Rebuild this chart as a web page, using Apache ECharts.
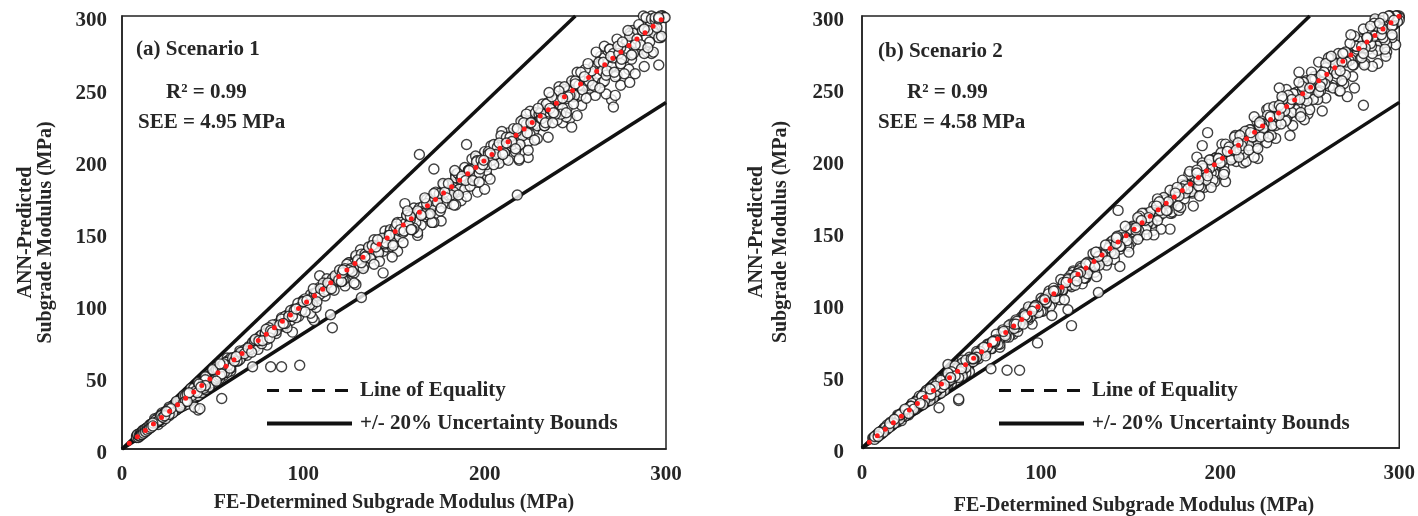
<!DOCTYPE html>
<html>
<head>
<meta charset="utf-8">
<title>ANN-Predicted vs FE-Determined Subgrade Modulus</title>
<script src="https://cdn.jsdelivr.net/npm/echarts@6/dist/echarts.min.js"></script>
<style>
  html, body { margin: 0; padding: 0; background: #fff; }
  #chart { width: 1418px; height: 516px; }
</style>
</head>
<body>
<div id="chart"></div>
<script>
// ---- Axis ticks ----
const xTicks = [0, 100, 200, 300];
const yTicks = [0, 50, 100, 150, 200, 250, 300];

// ---- Reference lines (MPa) ----
const equalityLine = [[0, 0], [300, 300]];
const upperBound = [[0, 0], [250, 300]];   // +20 %
const lowerBound = [[0, 0], [300, 240]];   // -20 %

// ---- Scenario 1: [FE-determined, ANN-predicted] ----
const s1Low = [
  [8,9],[8,8],[9,8],[9,10],[10,11],[10,9],[11,12],[11,10],[12,13],[12,11],[13,14],[13,12],[14,15],[14,13],
  [15,16],[15,14],[16,17],[16,15],[17,18],[17,16],[18,19],[18,17],[19,20],[19,18],[20,22],[20,19],[21,22],[21,20],
  [22,24],[22,21],[23,24],[23,22],[24,26],[24,22],[25,26],[25,24],[26,28],[26,24],[27,28],[27,25],[28,30],[28,26],
  [29,30],[29,27],[30,32],[30,28],[31,33],[31,29],[32,34],[32,30],[33,35],[33,31],[34,36],[34,32],[35,37],[35,33],
  [36,38],[36,33],[37,39],[37,35],[38,40],[38,36],[39,41],[39,37],[40,42],[40,37],[41,43],[41,39],[42,44],[42,40],
  [43,45],[43,40],[44,46],[44,42],[45,47],[45,42],[46,48],[46,44],[47,49],[47,44],[48,50],[48,45],[49,51],[49,47],
  [50,52],[50,47],[51,53],[51,48],[52,55],[52,49],[53,55],[53,50],[54,57],[54,51],[55,57],[55,52],[56,59],[56,53],
  [57,59],[57,54],[58,61],[58,55],[59,61],[59,56],[60,63],[60,56],
  [36,31],[38,34],[40,36],[42,37],[44,39],[46,41],[48,43],[24,21],[28,25],[32,29],[52,47],[56,51],[60,54],
  [20,17],[22,19],[26,23],[30,27],[34,30],[44,40],[50,46],[54,49],[58,53],[26,29],[30,33],[34,37],[38,42],
  [42,46],[46,50],[50,55],[54,59],[58,63],[18,21],[22,25]
];
const s1LowB = [
  [8.5,10],[9.5,9],[10.5,10],[11.5,13],[12.5,12],[13.5,14],[14.5,14],[15.5,17],[16.5,16],[17.5,17],[18.5,20],
  [19.5,19],[20.5,20],[21.5,23],[22.5,22],[23.5,23],[24.5,26],[25.5,25],[26.5,26],[27.5,29],[28.5,28],[29.5,28],
  [30.5,32],[31.5,31],[32.5,31],[33.5,35],[34.5,34],[35.5,34],[36.5,39],[37.5,37],[38.5,37],[39.5,42],[40.5,40],
  [41.5,39],[42.5,45],[43.5,43],[44.5,42],[45.5,48],[46.5,46],[47.5,45],[48.5,51],[49.5,49],[50.5,48],[51.5,54],
  [52.5,52],[53.5,51],[54.5,57],[55.5,55],[56.5,53],[57.5,60],[58.5,58],[59.5,56]
];
const s1BandA = [
  [61,63],[62,61],[63,64],[64,61],[65,68],[66,66],[67,65],[68,69],[69,65],[70,71],[71,70],[72,74],[73,70],[74,75],
  [75,69],[76,76],[77,79],[78,76],[79,80],[80,76],[81,84],[82,82],[83,81],[84,86],[85,80],[86,87],[87,86],[88,91],
  [89,85],[90,92],[91,84],[92,92],[93,96],[94,92],[95,96],[96,91],[97,101],[98,98],[99,96],[100,102],[101,95],
  [102,103],[103,102],[104,107],[105,101],[106,108],[107,98],[108,108],[109,112],[110,108],[111,112],[112,106],
  [113,118],[114,114],[115,112],[116,118],[117,110],[118,119],[119,118],[120,124],[121,116],[122,124],[123,113],
  [124,124],[125,129],[126,123],[127,128],[128,122],[129,134],[130,130],[131,127],[132,135],[133,125],[134,135],
  [135,134],[136,140],[137,132],[138,141],[139,128],[140,140],[141,145],[142,139],[143,144],[144,137],[145,151],
  [146,146],[147,143],[148,151],[149,140],[150,152],[151,149],[152,157],[153,147],[154,157],[155,143],[156,156],
  [157,162],[158,155],[159,161],[160,152],[161,167],[162,162],[163,158],[164,167],[165,155],[166,168],[167,165],
  [168,173],[169,162],[170,173],[171,157],[172,172],[173,178],[174,171],[175,177],[176,167],[177,184],[178,178],
  [179,174],[180,184],[181,170],[182,184],[183,181],[184,190],[185,178],[186,190],[187,172],[188,188],[189,195],
  [190,186],[191,193],[192,182],[193,201],[194,194],[195,189],[196,200],[197,185],[198,200],[199,197],[200,206],
  [201,193],[202,206],[203,187],[204,204],[205,211],[206,202],[207,209],[208,198],[209,217],[210,210],[211,205],
  [212,216],[213,200],[214,216],[215,213],[216,222],[217,208],[218,222],[219,201],[220,220],[221,228],[222,218],
  [223,225],[224,213],[225,234],[226,226],[227,220],[228,233],[229,215],[230,232],[231,229],[232,239],[233,224],
  [234,239],[235,216],[236,236],[237,244],[238,233],[239,241],[240,228],[241,251],[242,242],[243,236],[244,249],
  [245,230],[246,248],[247,245],[248,255],[249,239],[250,255],[251,231],[252,252],[253,261],[254,249],[255,258],
  [256,243],[257,267],[258,258],[259,251],[260,265],[261,245],[262,265],[263,260],[264,272],[265,254],[266,271],
  [267,246],[268,268],[269,277],[270,265],[271,274],[272,258],[273,284],[274,274],[275,267],[276,282],[277,260],
  [278,281],[279,276],[280,288],[281,270],[282,288],[283,260],[284,284],[285,294],[286,280],[287,290],[288,274],
  [289,299],[290,290],[291,282],[292,298],[293,275],[294,297],[295,292],[296,299],[297,285],[298,300]
];
const s1BandB = [
  [62,61],[64,65],[66,64],[68,68],[70,69],[72,73],[74,71],[76,78],[78,77],[80,72],[82,83],[84,82],[86,85],[88,90],
  [90,87],[92,92],[94,92],[96,97],[98,94],[100,103],[102,101],[104,94],[106,107],[108,106],[110,109],[112,114],
  [114,111],[116,116],[118,116],[120,121],[122,117],[124,128],[126,125],[128,115],[130,131],[132,129],[134,133],
  [136,139],[138,134],[140,140],[142,139],[144,145],[146,140],[148,152],[150,149],[152,137],[154,156],[156,153],
  [158,156],[160,163],[162,157],[164,164],[166,163],[168,170],[170,163],[172,177],[174,172],[176,158],[178,180],
  [180,176],[182,180],[184,188],[186,180],[188,188],[190,186],[192,194],[194,186],[196,202],[198,196],[200,180],
  [202,204],[204,200],[206,204],[208,212],[210,204],[212,212],[214,210],[216,218],[218,209],[220,227],[222,220],
  [224,202],[226,228],[228,223],[230,228],[232,237],[234,227],[236,236],[238,233],[240,242],[242,232],[244,251],
  [246,244],[248,223],[250,253],[252,247],[254,251],[256,261],[258,250],[260,260],[262,257],[264,267],[266,255],
  [268,276],[270,267],[272,245],[274,277],[276,270],[278,275],[280,286],[282,274],[284,284],[286,280],[288,291],
  [290,278],[292,300],[294,291],[296,266],[298,300]
];
const s1BandC = [
  [61,60],[63,64],[65,62],[67,68],[69,68],[71,69],[73,75],[75,75],[77,73],[79,80],[81,79],[83,86],[85,82],[87,86],
  [89,87],[91,92],[93,89],[95,97],[97,96],[99,96],[101,104],[103,103],[105,100],[107,108],[109,107],[111,115],
  [113,110],[115,114],[117,115],[119,120],[121,116],[123,125],[125,124],[127,123],[129,133],[131,131],[133,126],
  [135,136],[137,134],[139,145],[141,137],[143,142],[145,142],[147,148],[149,143],[151,154],[153,151],[155,150],
  [157,162],[159,159],[161,153],[163,165],[165,162],[167,174],[169,164],[171,169],[173,170],[175,177],[177,170],
  [179,183],[181,179],[183,178],[185,191],[187,187],[189,180],[191,193],[193,189],[195,203],[197,191],[199,197],
  [201,197],[203,205],[205,197],[207,211],[209,207],[211,205],[213,219],[215,215],[217,206],[219,221],[221,217],
  [223,232],[225,218],[227,225],[229,224],[231,233],[233,224],[235,240],[237,235],[239,232],[241,248],[243,243],
  [245,233],[247,249],[249,244],[251,261],[253,245],[255,252],[257,252],[259,262],[261,251],[263,268],[265,262],
  [267,259],[269,277],[271,271],[273,259],[275,278],[277,271],[279,290],[281,273],[283,280],[285,279],[287,290],
  [289,277],[291,297],[293,290],[295,286],[297,300],[299,299]
];
const s1BandD = [
  [61.5,62],[63.5,61],[65.5,67],[67.5,66],[69.5,70],[71.5,67],[73.5,76],[75.5,75],[77.5,75],[79.5,83],[81.5,77],
  [83.5,84],[85.5,84],[87.5,88],[89.5,86],[91.5,93],[93.5,92],[95.5,96],[97.5,92],[99.5,102],[101.5,100],[103.5,100],
  [105.5,111],[107.5,102],[109.5,111],[111.5,109],[113.5,115],[115.5,111],[117.5,120],[119.5,117],[121.5,122],
  [123.5,116],[125.5,129],[127.5,126],[129.5,126],[131.5,138],[133.5,127],[135.5,137],[137.5,135],[139.5,141],
  [141.5,136],[143.5,146],[145.5,143],[147.5,148],[149.5,141],[151.5,156],[153.5,152],[155.5,151],[157.5,165],
  [159.5,152],[161.5,163],[163.5,160],[165.5,167],[167.5,161],[169.5,173],[171.5,168],[173.5,174],[175.5,165],
  [177.5,183],[179.5,178],[181.5,176],[183.5,193],[185.5,176],[187.5,189],[189.5,186],[191.5,193],[193.5,186],
  [195.5,199],[197.5,194],[199.5,200],[201.5,189],[203.5,210],[205.5,203],[207.5,201],[209.5,220],[211.5,201],
  [213.5,216],[215.5,211],[217.5,220],[219.5,211],[221.5,226],[223.5,219],[225.5,226],[227.5,214],[229.5,236],
  [231.5,229],[233.5,226],[235.5,247],[237.5,226],[239.5,242],[241.5,237],[243.5,246],[245.5,236],[247.5,252],
  [249.5,245],[251.5,252],[253.5,238],[255.5,263],[257.5,255],[259.5,252],[261.5,275],[263.5,250],[265.5,268],
  [267.5,262],[269.5,272],[271.5,261],[273.5,279],[275.5,270],[277.5,278],[279.5,263],[281.5,290],[283.5,281],
  [285.5,277],[287.5,300],[289.5,275],[291.5,294],[293.5,288],[295.5,298],[297.5,286],[299.5,299]
];
const s1Outliers = [
  [42,27],[40,29],[43,28],[55,35],[72,57],[82,57],[88,57],[98,58],[94,81],[106,89],[109,120],[105,91],[115,93],
  [116,84],[132,105],[144,122],[129,114],[142,130],[149,133],[163,148],[164,204],[172,194],[156,170],[190,211],
  [218,176],[219,200],[224,207],[243,226],[247,229],[270,242],[271,237],[275,252],[280,254],[288,265],[292,274],
  [296,285],[266,279],[196,178],[190,175],[184,169],[172,157],[163,150],[183,169],[171,157],[294,299],[296,298]
];

// ---- Scenario 2: [FE-determined, ANN-predicted] ----
const s2Low = [
  [6,7],[7,8],[7,6],[8,9],[8,7],[9,10],[9,8],[10,11],[10,9],[11,12],[11,10],[12,13],[12,11],[13,14],[13,12],
  [14,16],[14,13],[15,16],[15,14],[16,18],[16,15],[17,18],[17,16],[18,20],[18,17],[19,20],[19,18],[20,22],[20,18],
  [21,23],[21,20],[22,24],[22,20],[23,25],[23,22],[24,26],[24,22],[25,27],[25,23],[26,28],[26,24],[27,29],[27,25],
  [28,30],[28,26],[29,31],[29,27],[30,32],[30,28],[31,33],[31,29],[32,34],[32,30],[33,35],[33,31],[34,36],[34,32],
  [35,37],[35,33],[36,39],[36,34],[37,39],[37,35],[38,41],[38,36],[39,41],[39,37],[40,43],[40,38],[41,43],[41,39],
  [42,45],[42,40],[43,45],[43,41],[44,47],[44,42],[45,47],[45,43],[46,49],[46,44],[47,49],[47,45],[48,51],[48,46],
  [49,51],[49,47],[50,53],[50,48],[51,53],[51,49],[52,55],[52,50],[53,55],[53,51],[54,57],[54,52],[55,57],[55,53],
  [56,59],[56,54],[57,59],[57,55],[58,61],[58,56],[59,61],[59,57],[60,63],[60,58],
  [34,30],[38,33],[40,35],[44,38],[46,40],[50,45],[56,50],[60,53],[30,27],[26,23],
  [20,23],[24,27],[28,31],[32,36],[36,40],[40,44],[44,48],[48,52],[52,57],[56,61],[22,19],[42,38],[48,44],[54,49],[58,52]
];
const s2LowB = [
  [6.5,7],[7.5,8],[8.5,8],[9.5,11],[10.5,10],[11.5,11],[12.5,14],[13.5,13],[14.5,14],[15.5,17],[16.5,16],[17.5,17],
  [18.5,20],[19.5,19],[20.5,20],[21.5,23],[22.5,22],[23.5,23],[24.5,26],[25.5,25],[26.5,25],[27.5,29],[28.5,28],
  [29.5,28],[30.5,33],[31.5,31],[32.5,31],[33.5,36],[34.5,34],[35.5,34],[36.5,39],[37.5,37],[38.5,37],[39.5,42],
  [40.5,40],[41.5,39],[42.5,45],[43.5,43],[44.5,42],[45.5,48],[46.5,46],[47.5,45],[48.5,51],[49.5,49],[50.5,48],
  [51.5,54],[52.5,52],[53.5,51],[54.5,57],[55.5,55],[56.5,54],[57.5,60],[58.5,58],[59.5,57]
];
const s2BandA = [
  [61,62],[62,60],[63,63],[64,67],[65,62],[66,67],[67,66],[68,70],[69,64],[70,70],[71,72],[72,69],[73,74],[74,73],
  [75,79],[76,74],[77,70],[78,79],[79,81],[80,78],[81,81],[82,85],[83,79],[84,85],[85,83],[86,89],[87,81],[88,88],
  [89,91],[90,86],[91,92],[92,91],[93,98],[94,91],[95,86],[96,97],[97,99],[98,95],[99,99],[100,104],[101,96],
  [102,103],[103,101],[104,107],[105,98],[106,106],[107,109],[108,104],[109,110],[110,109],[111,117],[112,109],
  [113,103],[114,115],[115,117],[116,113],[117,117],[118,123],[119,113],[120,121],[121,119],[122,126],[123,114],
  [124,124],[125,128],[126,121],[127,128],[128,127],[129,135],[130,126],[131,119],[132,133],[133,136],[134,130],
  [135,135],[136,141],[137,130],[138,139],[139,136],[140,144],[141,131],[142,142],[143,146],[144,138],[145,146],
  [146,145],[147,154],[148,144],[149,136],[150,152],[151,154],[152,147],[153,153],[154,160],[155,147],[156,158],
  [157,154],[158,163],[159,148],[160,160],[161,164],[162,156],[163,165],[164,162],[165,173],[166,161],[167,152],
  [168,170],[169,172],[170,165],[171,171],[172,179],[173,164],[174,176],[175,172],[176,181],[177,165],[178,178],
  [179,183],[180,173],[181,183],[182,180],[183,192],[184,178],[185,168],[186,188],[187,191],[188,182],[189,189],
  [190,198],[191,181],[192,194],[193,189],[194,200],[195,181],[196,196],[197,201],[198,190],[199,201],[200,198],
  [201,211],[202,196],[203,185],[204,206],[205,209],[206,200],[207,207],[208,216],[209,199],[210,212],[211,207],
  [212,218],[213,198],[214,214],[215,219],[216,207],[217,219],[218,216],[219,230],[220,213],[221,201],[222,224],
  [223,227],[224,217],[225,225],[226,235],[227,216],[228,230],[229,224],[230,237],[231,215],[232,232],[233,238],
  [234,225],[235,237],[236,234],[237,249],[238,231],[239,217],[240,242],[241,246],[242,235],[243,243],[244,254],
  [245,233],[246,248],[247,242],[248,255],[249,232],[250,250],[251,256],[252,242],[253,256],[254,251],[255,268],
  [256,248],[257,234],[258,261],[259,264],[260,252],[261,261],[262,272],[263,250],[264,267],[265,260],[266,274],
  [267,248],[268,268],[269,274],[270,259],[271,274],[272,269],[273,287],[274,266],[275,250],[276,279],[277,283],
  [278,270],[279,279],[280,291],[281,267],[282,285],[283,277],[284,293],[285,265],[286,286],[287,293],[288,276],
  [289,292],[290,287],[291,299],[292,283],[293,280],[294,297],[295,300],[296,287],[297,297],[298,300],[299,296],[300,299]
];
const s2BandB = [
  [62,62],[64,63],[66,67],[68,67],[70,72],[72,70],[74,74],[76,72],[78,80],[80,79],[82,77],[84,85],[86,86],[88,86],
  [90,91],[92,91],[94,97],[96,93],[98,98],[100,95],[102,104],[104,103],[106,100],[108,109],[110,110],[112,110],
  [114,115],[116,115],[118,122],[120,116],[122,122],[124,118],[126,129],[128,127],[130,122],[132,133],[134,134],
  [136,133],[138,139],[140,139],[142,146],[144,140],[146,146],[148,141],[150,153],[152,150],[154,145],[156,158],
  [158,158],[160,157],[162,164],[164,162],[166,171],[168,163],[170,170],[172,163],[174,177],[176,174],[178,167],
  [180,182],[182,182],[184,180],[186,188],[188,186],[190,196],[192,186],[194,194],[196,186],[198,202],[200,198],
  [202,190],[204,206],[206,206],[208,204],[210,212],[212,210],[214,220],[216,210],[218,218],[220,209],[222,226],
  [224,222],[226,212],[228,230],[230,230],[232,227],[234,236],[236,234],[238,245],[240,233],[242,242],[244,232],
  [246,251],[248,246],[250,235],[252,255],[254,254],[256,251],[258,261],[260,257],[262,270],[264,256],[266,266],
  [268,255],[270,275],[272,269],[274,258],[276,279],[278,278],[280,274],[282,285],[284,281],[286,295],[288,279],
  [290,290],[292,277],[294,300],[296,293],[298,280],[300,300]
];
const s2BandC = [
  [61,62],[63,61],[65,64],[67,69],[69,66],[71,71],[73,74],[75,74],[77,72],[79,80],[81,80],[83,86],[85,86],[87,84],
  [89,88],[91,94],[93,89],[95,95],[97,99],[99,97],[101,95],[103,104],[105,104],[107,111],[109,110],[111,108],
  [113,112],[115,118],[117,112],[119,119],[121,123],[123,121],[125,118],[127,128],[129,128],[131,136],[133,134],
  [135,131],[137,136],[139,143],[141,135],[143,143],[145,148],[147,144],[149,140],[151,153],[153,151],[155,161],
  [157,159],[159,154],[161,159],[163,168],[165,158],[167,167],[169,172],[171,168],[173,163],[175,177],[177,175],
  [179,186],[181,183],[183,178],[185,183],[187,193],[189,181],[191,191],[193,197],[195,191],[197,185],[199,201],
  [201,199],[203,211],[205,207],[207,201],[209,207],[211,217],[213,204],[215,215],[217,221],[219,215],[221,208],
  [223,225],[225,223],[227,236],[229,231],[231,224],[233,231],[235,242],[237,228],[239,239],[241,246],[243,238],
  [245,230],[247,249],[249,247],[251,261],[253,256],[255,247],[257,254],[259,267],[261,251],[263,263],[265,270],
  [267,262],[269,253],[271,274],[273,270],[275,286],[277,280],[279,271],[281,278],[283,291],[285,274],[287,287],
  [289,295],[291,285],[293,275],[295,298],[297,294],[299,300]
];
const s2BandD = [
  [62.5,62],[64.5,66],[66.5,65],[68.5,69],[70.5,72],[72.5,69],[74.5,75],[76.5,75],[78.5,82],[80.5,77],[82.5,83],
  [84.5,79],[86.5,88],[88.5,88],[90.5,93],[92.5,90],[94.5,95],[96.5,98],[98.5,94],[100.5,102],[102.5,100],[104.5,109],
  [106.5,102],[108.5,109],[110.5,103],[112.5,115],[114.5,113],[116.5,120],[118.5,115],[120.5,121],[122.5,125],
  [124.5,118],[126.5,128],[128.5,126],[130.5,136],[132.5,127],[134.5,135],[136.5,127],[138.5,141],[140.5,139],
  [142.5,147],[144.5,140],[146.5,147],[148.5,151],[150.5,143],[152.5,154],[154.5,151],[156.5,163],[158.5,152],
  [160.5,161],[162.5,151],[164.5,168],[166.5,165],[168.5,174],[170.5,165],[172.5,173],[174.5,178],[176.5,168],
  [178.5,180],[180.5,177],[182.5,190],[184.5,177],[186.5,187],[188.5,175],[190.5,194],[192.5,191],[194.5,200],
  [196.5,191],[198.5,199],[200.5,205],[202.5,192],[204.5,207],[206.5,202],[208.5,217],[210.5,202],[212.5,213],
  [214.5,199],[216.5,221],[218.5,216],[220.5,227],[222.5,216],[224.5,225],[226.5,231],[228.5,217],[230.5,233],
  [232.5,228],[234.5,244],[236.5,227],[238.5,239],[240.5,224],[242.5,247],[244.5,242],[246.5,254],[248.5,241],
  [250.5,251],[252.5,258],[254.5,242],[256.5,259],[258.5,253],[260.5,271],[262.5,252],[264.5,265],[266.5,248],
  [268.5,274],[270.5,268],[272.5,281],[274.5,266],[276.5,277],[278.5,284],[280.5,266],[282.5,285],[284.5,279],
  [286.5,298],[288.5,277],[290.5,291],[292.5,272],[294.5,300],[296.5,294],[298.5,300]
];
const s2Outliers = [
  [43,28],[54,34],[54,33],[48,58],[72,55],[81,54],[88,54],[98,73],[106,92],[117,85],[115,96],[132,108],[144,126],
  [143,165],[163,148],[172,152],[187,202],[190,210],[193,219],[219,202],[233,250],[244,261],[247,228],[259,243],
  [271,244],[280,238],[288,267],[296,285],[300,297]
];

// Points are stacked in an interleaved draw order so the overlapping
// open circles show their outlines through the dense band.
function interleave(points) {
  const n = points.length;
  let stride = 97;
  while (n % stride === 0) stride += 2;
  const out = [];
  for (let k = 0; k < n; k++) out.push(points[(k * stride) % n]);
  return out;
}

const scenario1 = interleave(s1Low.concat(s1LowB, s1BandA, s1BandB, s1BandC, s1BandD, s1Outliers));
const scenario2 = interleave(s2Low.concat(s2LowB, s2BandA, s2BandB, s2BandC, s2BandD, s2Outliers));

// ---- Text ----
const panelTitles = ['(a) Scenario 1', '(b) Scenario 2'];
const r2Labels = ['R² = 0.99', 'R² = 0.99'];
const seeLabels = ['SEE = 4.95 MPa', 'SEE = 4.58 MPa'];
const legendNames = ['Line of Equality', '+/- 20% Uncertainty Bounds'];
const xTitle = 'FE-Determined Subgrade Modulus (MPa)';
const yTitle = 'ANN-Predicted\nSubgrade Modulus (MPa)';

const FONT = '"Liberation Serif", "Times New Roman", serif';
const TXT = '#262626';

const grids = [
  { left: 122, top: 16, width: 544, height: 433 },
  { left: 862, top: 16, width: 544, height: 432 }
];

function makeX(i) {
  return {
    type: 'value', gridIndex: i, min: 0, max: 300, interval: 100,
    axisLine: { show: true, onZero: false, lineStyle: { color: '#222', width: 1.5 } },
    axisTick: { show: false },
    splitLine: { show: false },
    axisLabel: {
      margin: 15, fontFamily: FONT, fontWeight: 'bold', fontSize: 21, color: TXT,
      formatter: v => (xTicks.indexOf(v) >= 0 ? String(v) : '')
    }
  };
}
function makeY(i, nameGap, lineH, margin) {
  return {
    type: 'value', gridIndex: i, min: 0, max: 300, interval: 50,
    name: yTitle, nameLocation: 'middle', nameGap: nameGap,
    nameTextStyle: { fontFamily: FONT, fontWeight: 'bold', fontSize: 20, lineHeight: lineH, color: TXT },
    axisLine: { show: true, onZero: false, lineStyle: { color: '#222', width: 1.5 } },
    axisTick: { show: false },
    splitLine: { show: false },
    axisLabel: {
      margin: margin, color: TXT,
      formatter: v => (yTicks.indexOf(v) >= 0 ? '{t|' + v + '}' : ''),
      rich: { t: { fontFamily: FONT, fontWeight: 'bold', fontSize: 21, color: TXT, padding: [10, 0, 0, 0] } }
    }
  };
}

function panelSeries(i, points) {
  const boundStyle = { color: '#111', width: 3.5 };
  return [
    { name: legendNames[1], type: 'line', xAxisIndex: i, yAxisIndex: i, data: upperBound,
      symbol: 'none', lineStyle: boundStyle, z: 2, silent: true },
    { name: legendNames[1], type: 'line', xAxisIndex: i, yAxisIndex: i, data: lowerBound,
      symbol: 'none', lineStyle: boundStyle, z: 2, silent: true },
    { name: 'Scenario ' + (i + 1), type: 'scatter', xAxisIndex: i, yAxisIndex: i, data: points,
      symbol: 'circle', symbolSize: 10, z: 3, silent: true, progressive: 0,
      itemStyle: { color: '#fff', borderColor: '#111', borderWidth: 1.4 } },
    { name: legendNames[0], type: 'line', xAxisIndex: i, yAxisIndex: i, data: equalityLine,
      symbol: 'none', z: 4, silent: true,
      lineStyle: { color: '#ff1a1a', width: 5, type: [0, 10.3], dashOffset: 1, cap: 'round' } }
  ];
}

function makeLegend(left) {
  return {
    left: left, top: 375, orient: 'vertical',
    itemWidth: 85, itemHeight: 22, itemGap: 12,
    selectedMode: false,
    textStyle: { fontFamily: FONT, fontWeight: 'bold', fontSize: 21, color: TXT, padding: [0, 0, 0, 3] },
    data: [
      { name: legendNames[0], itemStyle: { opacity: 0 },
        lineStyle: { color: '#111', width: 3, type: [13, 10], cap: 'butt' } },
      { name: legendNames[1], itemStyle: { opacity: 0 },
        lineStyle: { color: '#111', width: 4, type: 'solid' } }
    ]
  };
}

function textEl(x, y, text, size, align) {
  return {
    type: 'text', x: x, y: y, silent: true,
    style: { text: text, font: 'bold ' + (size || 21) + 'px ' + FONT, fill: TXT,
             verticalAlign: 'middle', align: align || 'left' }
  };
}

const chart = echarts.init(document.getElementById('chart'), null, { renderer: 'canvas' });
chart.setOption({
  animation: false,
  backgroundColor: '#fff',
  grid: grids.map(g => Object.assign({ show: true, borderColor: '#222', borderWidth: 1.5, containLabel: false }, g)),
  xAxis: [makeX(0), makeX(1)],
  yAxis: [makeY(0, 66, 20, 15), makeY(1, 69, 24, 18)],
  legend: [makeLegend(260), makeLegend(992)],
  series: panelSeries(0, scenario1).concat(panelSeries(1, scenario2)),
  graphic: [
    textEl(136, 50, panelTitles[0]),
    textEl(166, 93, r2Labels[0]),
    textEl(138, 123, seeLabels[0]),
    textEl(878, 52, panelTitles[1]),
    textEl(907, 93, r2Labels[1]),
    textEl(878, 123, seeLabels[1]),
    textEl(394, 503, xTitle, 20, 'center'),
    textEl(1134, 506, xTitle, 20, 'center')
  ]
});
</script>
</body>
</html>
